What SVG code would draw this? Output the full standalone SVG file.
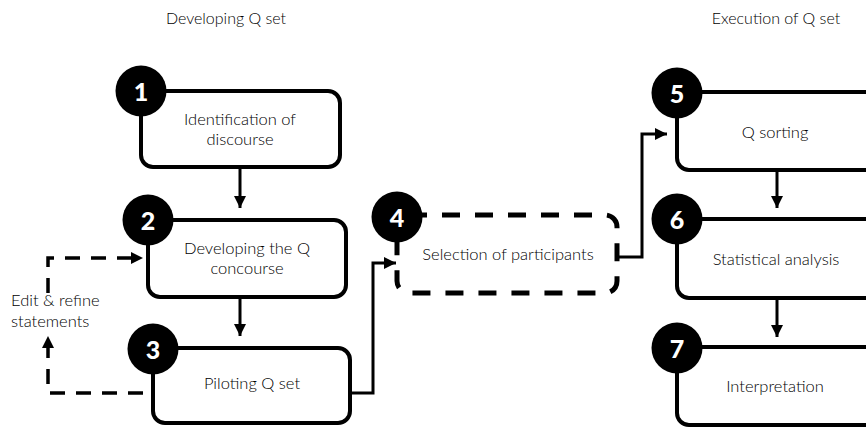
<svg xmlns="http://www.w3.org/2000/svg" width="866" height="428" viewBox="0 0 866 428">
<defs>
<style>
.box{fill:#fff;stroke:#000;stroke-width:4}
.dbox{fill:#fff;stroke:#000;stroke-width:5;stroke-dasharray:18 15}
.num{fill:#000}
.nt{font-family:Lato,"Open Sans","Liberation Sans",sans-serif;font-weight:900;font-size:25px;fill:#fff;text-anchor:middle}
.t{font-family:Lato,"Open Sans","Liberation Sans",sans-serif;font-weight:300;font-size:16.5px;fill:#000;text-anchor:middle}
.h{font-family:Lato,"Open Sans","Liberation Sans",sans-serif;font-weight:300;font-size:16px;fill:#000;text-anchor:middle}
.c{fill:none;stroke:#000;stroke-width:3}
.dc{fill:none;stroke:#000;stroke-width:3.5;stroke-dasharray:15 11}
</style>
<marker id="ah" markerUnits="userSpaceOnUse" markerWidth="12" markerHeight="12" refX="12" refY="6" orient="auto" viewBox="0 0 12 12">
<path d="M0,0 L12,6 L0,12 z" fill="#000"/>
</marker>
</defs>
<rect width="866" height="428" fill="#fff"/>
<text class="h" x="226" y="24">Developing Q set</text>
<text class="h" x="776" y="24">Execution of Q set</text>

<g id="connectors">
<path class="c" d="M240,167 V208" marker-end="url(#ah)"/>
<path class="c" d="M240,297 V336" marker-end="url(#ah)"/>
<path class="c" d="M350,393 H373 V263 H396" marker-end="url(#ah)"/>
<path class="c" d="M617,257 H642 V134 H667" marker-end="url(#ah)"/>
<path class="c" d="M777,170 V208" marker-end="url(#ah)"/>
<path class="c" d="M777,298 V337" marker-end="url(#ah)"/>
<path class="dc" d="M143,393 H48 V336" marker-end="url(#ah)"/>
<path class="dc" d="M48,293 V258 H143" marker-end="url(#ah)"/>
<text class="t" x="11" y="306" style="text-anchor:start">Edit &amp; refine</text>
<text class="t" x="11" y="327" style="text-anchor:start">statements</text>
</g>

<g id="node1">
<rect class="box" x="141" y="91" width="199" height="76" rx="12"/>
<circle class="num" cx="141" cy="91" r="25.5"/>
<text class="nt" x="141" y="101">1</text>
<text class="t" x="240" y="125">Identification of</text>
<text class="t" x="240" y="145">discourse</text>
</g>

<g id="node2">
<rect class="box" x="148" y="220" width="198" height="77" rx="12"/>
<circle class="num" cx="148" cy="220" r="25.5"/>
<text class="nt" x="148" y="230">2</text>
<text class="t" x="247" y="254">Developing the Q</text>
<text class="t" x="247" y="274">concourse</text>
</g>

<g id="node3">
<rect class="box" x="153" y="348" width="197" height="75" rx="12"/>
<circle class="num" cx="153" cy="349" r="25.5"/>
<text class="nt" x="153" y="359">3</text>
<text class="t" x="252" y="389">Piloting Q set</text>
</g>

<g id="node4">
<rect class="dbox" x="397" y="215" width="220" height="78" rx="12"/>
<circle class="num" cx="397" cy="217" r="25.5"/>
<text class="nt" x="397" y="227">4</text>
<text class="t" x="508" y="260">Selection of participants</text>
</g>

<g id="node5">
<rect class="box" x="677" y="92" width="200" height="78" rx="12"/>
<circle class="num" cx="677" cy="93" r="25.5"/>
<text class="nt" x="677" y="103">5</text>
<text class="t" x="775" y="138">Q sorting</text>
</g>

<g id="node6">
<rect class="box" x="677" y="219" width="200" height="79" rx="12"/>
<circle class="num" cx="677" cy="219" r="25.5"/>
<text class="nt" x="677" y="229">6</text>
<text class="t" x="776" y="265">Statistical analysis</text>
</g>

<g id="node7">
<rect class="box" x="677" y="347" width="200" height="78" rx="12"/>
<circle class="num" cx="677" cy="348" r="25.5"/>
<text class="nt" x="677" y="358">7</text>
<text class="t" x="775" y="392">Interpretation</text>
</g>
</svg>
